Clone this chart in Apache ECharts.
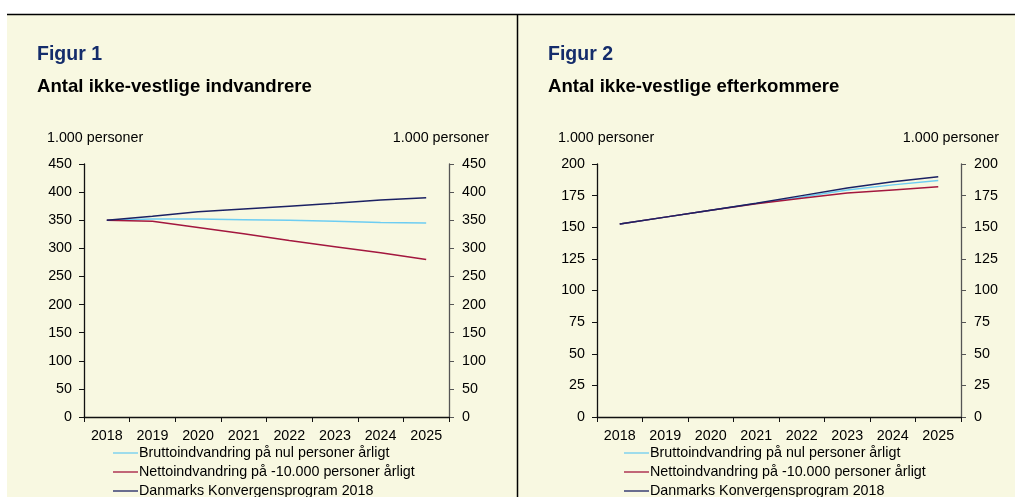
<!DOCTYPE html>
<html><head><meta charset="utf-8">
<script src="https://cdn.jsdelivr.net/npm/echarts@6/dist/echarts.min.js"></script>
<style>html,body{margin:0;padding:0;background:#fff}#c{width:1015px;height:497px}</style>
</head><body><div id="c"></div>
<script>
const years = ['2018','2019','2020','2021','2022','2023','2024','2025'];
const seriesNames = ['Bruttoindvandring på nul personer årligt','Nettoindvandring på -10.000 personer årligt','Danmarks Konvergensprogram 2018'];
// Figur 1: indvandrere (1.000 personer)
const fig1Brutto = [350, 352, 352, 351, 350, 348, 346, 345];
const fig1Netto  = [350, 348, 337, 326, 314, 303, 292, 280];
const fig1Konv   = [350, 357, 365, 370, 375, 380, 386, 390];
// Figur 2: efterkommere (1.000 personer)
const fig2Brutto = [152.5, 158, 163.5, 168.8, 174, 179.5, 183.5, 187];
const fig2Netto  = [152.5, 158, 163.5, 168.5, 173, 177, 179.5, 182];
const fig2Konv   = [152.5, 158, 163.5, 169, 175, 181, 186, 190];
const fig1Ticks = {min:0, max:450, interval:50};
const fig2Ticks = {min:0, max:200, interval:25};
const titles = ['Figur 1','Figur 2'];
const subtitles = ['Antal ikke-vestlige indvandrere','Antal ikke-vestlige efterkommere'];
const unitLabel = '1.000 personer';

const colors = ['#6DCDF2','#A3173E','#1B2163'];
const FONT = '"Liberation Sans", Arial, sans-serif';
const chart = echarts.init(document.getElementById('c'));

function yAxisPair(gi, t) {
  const base = {type:'value', gridIndex:gi, min:t.min, max:t.max, interval:t.interval,
    splitLine:{show:false},
    axisLabel:{color:'#000', fontSize:14.3, fontFamily:FONT}};
  return [
    Object.assign({}, base, {position:'left', axisLine:{show:true, lineStyle:{color:'#111', width:1.3}},
      axisTick:{show:true, length:5, lineStyle:{color:'#111'}}, axisLabel:Object.assign({}, base.axisLabel, {margin:12})}),
    Object.assign({}, base, {position:'right', axisLine:{show:true, lineStyle:{color:'#555', width:1.3}},
      axisTick:{show:true, length:5, lineStyle:{color:'#555'}}, axisLabel:Object.assign({}, base.axisLabel, {margin:13})})
  ];
}
function xAxis(gi) {
  return {type:'category', gridIndex:gi, data:years, boundaryGap:true,
    axisLine:{show:true, onZero:false, lineStyle:{color:'#111', width:1.3}},
    axisTick:{show:true, length:5, lineStyle:{color:'#111'}},
    axisLabel:{color:'#000', fontSize:14.3, fontFamily:FONT, margin:12}};
}
function line(name, data, gi, ci) {
  return {type:'line', name:name, data:data, xAxisIndex:gi, yAxisIndex:gi*2,
    symbol:'none', color:colors[ci], lineStyle:{width:1.5, color:colors[ci]}, z:ci===2?4:3, animation:false};
}
const yA = yAxisPair(0, fig1Ticks).concat(yAxisPair(1, fig2Ticks));
const legendBase = {orient:'vertical', itemWidth:25, itemHeight:14, itemGap:5, padding:0,
  icon:'path://M0,0L25,0L25,1.3L0,1.3Z', textStyle:{color:'#000', fontSize:14.3, fontFamily:FONT, padding:[0,0,0,-4]},
  selectedMode:false};
const legends = [];
[113, 624].forEach(x => {
  seriesNames.forEach((n, i) => {
    legends.push(Object.assign({}, legendBase, {data:[n], left:x, top:446 + i*19}));
  });
});
const titleText = (x, i) => ([
  {type:'text', left:x, top:45, style:{text:titles[i], fill:'#142C6B', font:'bold 19.5px '+FONT}},
  {type:'text', left:x, top:77, style:{text:subtitles[i], fill:'#000', font:'bold 18.6px '+FONT}}
]);
chart.setOption({
  backgroundColor:'#F8F8E1',
  animation:false,
  graphic:[
    {type:'rect', shape:{x:0,y:0,width:1015,height:14}, style:{fill:'#fff'}, silent:true},
    {type:'rect', shape:{x:0,y:0,width:7,height:497}, style:{fill:'#fff'}, silent:true},
    {type:'line', shape:{x1:7,y1:14.5,x2:1015,y2:14.5}, style:{stroke:'#000', lineWidth:1.5}},
    {type:'line', shape:{x1:517.5,y1:14,x2:517.5,y2:497}, style:{stroke:'#000', lineWidth:1.5}},
    ...titleText(37,0), ...titleText(548,1),
    {type:'text', left:47, top:131, style:{text:unitLabel, fill:'#000', font:'14.3px '+FONT}},
    {type:'text', right:1015-489, top:131, style:{text:unitLabel, fill:'#000', font:'14.3px '+FONT, align:'right'}},
    {type:'text', left:558, top:131, style:{text:unitLabel, fill:'#000', font:'14.3px '+FONT}},
    {type:'text', right:1015-999, top:131, style:{text:unitLabel, fill:'#000', font:'14.3px '+FONT, align:'right'}}
  ],
  grid:[
    {left:84, right:566, top:164, bottom:80, containLabel:false},
    {left:597, right:54, top:164, bottom:80, containLabel:false}
  ],
  xAxis:[xAxis(0), xAxis(1)],
  yAxis:yA,
  legend:legends,
  series:[
    line(seriesNames[0], fig1Brutto, 0, 0),
    line(seriesNames[1], fig1Netto, 0, 1),
    line(seriesNames[2], fig1Konv, 0, 2),
    line(seriesNames[0], fig2Brutto, 1, 0),
    line(seriesNames[1], fig2Netto, 1, 1),
    line(seriesNames[2], fig2Konv, 1, 2)
  ]
});
</script></body></html>
